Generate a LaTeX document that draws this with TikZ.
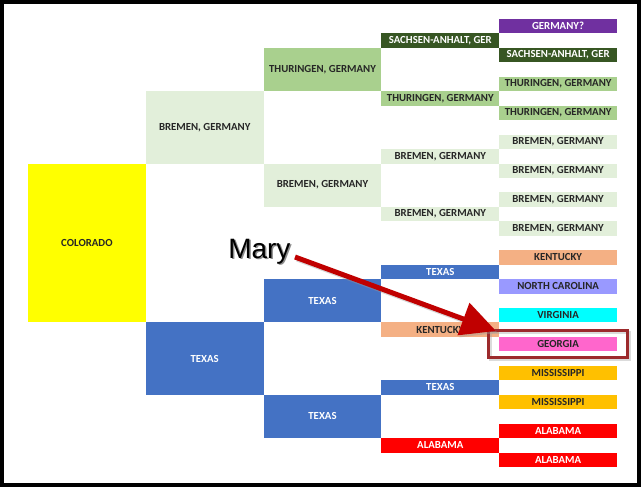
\documentclass[tikz,border=0pt]{standalone}
\usepackage{fontspec}
\setmainfont{Carlito}
\newfontfamily\arialfont{Liberation Sans}
\usetikzlibrary{arrows.meta}
\definecolor{cYellow}{HTML}{FFFF00}
\definecolor{cBremen}{HTML}{E2EFDA}
\definecolor{cThur}{HTML}{A9D08E}
\definecolor{cSach}{HTML}{375623}
\definecolor{cPurple}{HTML}{7030A0}
\definecolor{cTexas}{HTML}{4472C4}
\definecolor{cKent}{HTML}{F4B084}
\definecolor{cNC}{HTML}{9999FF}
\definecolor{cVirg}{HTML}{00FFFF}
\definecolor{cGeo}{HTML}{FF66CC}
\definecolor{cMiss}{HTML}{FFC000}
\definecolor{cAla}{HTML}{FF0000}
\definecolor{cDark}{HTML}{262626}
\definecolor{cFrame}{HTML}{9C2A2C}
\definecolor{cArrow}{HTML}{C00000}
\tikzset{
  box/.style={rectangle, inner sep=0pt, minimum width=88.35pt,
    font=\fontsize{8.1}{9}\selectfont\bfseries},
}
\newcommand\cell[7]{%
  \node[box, fill=#5, text=#6, minimum height={#4*10.8375pt}] (#1)
    at ({28+117.8*(#2)+58.9}, {19+14.45*(#3)+14.45*(#4)/2}) {#7};}
\begin{document}
\begin{tikzpicture}[x=0.75pt, y=-0.75pt]
\useasboundingbox (0,0) rectangle (641,487);
\fill[white] (0,0) rectangle (641,487);
% generation 1
\cell{colorado}{0}{10}{11}{cYellow}{cDark}{COLORADO}
% generation 2
\cell{bremenA}{1}{5}{5}{cBremen}{cDark}{BREMEN, GERMANY}
\cell{texasA}{1}{21}{5}{cTexas}{white}{TEXAS}
% generation 3
\cell{thurB}{2}{2}{3}{cThur}{cDark}{THURINGEN, GERMANY}
\cell{bremenB}{2}{10}{3}{cBremen}{cDark}{BREMEN, GERMANY}
\cell{texasB1}{2}{18}{3}{cTexas}{white}{TEXAS}
\cell{texasB2}{2}{26}{3}{cTexas}{white}{TEXAS}
% generation 4
\cell{sachC}{3}{1}{1}{cSach}{white}{SACHSEN-ANHALT, GER}
\cell{thurC}{3}{5}{1}{cThur}{cDark}{THURINGEN, GERMANY}
\cell{bremenC1}{3}{9}{1}{cBremen}{cDark}{BREMEN, GERMANY}
\cell{bremenC2}{3}{13}{1}{cBremen}{cDark}{BREMEN, GERMANY}
\cell{texasC1}{3}{17}{1}{cTexas}{white}{TEXAS}
\cell{kentC}{3}{21}{1}{cKent}{cDark}{KENTUCKY}
\cell{texasC2}{3}{25}{1}{cTexas}{white}{TEXAS}
\cell{alaC}{3}{29}{1}{cAla}{white}{ALABAMA}
% generation 5
\cell{gerD}{4}{0}{1}{cPurple}{white}{GERMANY?}
\cell{sachD}{4}{2}{1}{cSach}{white}{SACHSEN-ANHALT, GER}
\cell{thurD1}{4}{4}{1}{cThur}{cDark}{THURINGEN, GERMANY}
\cell{thurD2}{4}{6}{1}{cThur}{cDark}{THURINGEN, GERMANY}
\cell{bremenD1}{4}{8}{1}{cBremen}{cDark}{BREMEN, GERMANY}
\cell{bremenD2}{4}{10}{1}{cBremen}{cDark}{BREMEN, GERMANY}
\cell{bremenD3}{4}{12}{1}{cBremen}{cDark}{BREMEN, GERMANY}
\cell{bremenD4}{4}{14}{1}{cBremen}{cDark}{BREMEN, GERMANY}
\cell{kentD}{4}{16}{1}{cKent}{cDark}{KENTUCKY}
\cell{ncD}{4}{18}{1}{cNC}{cDark}{NORTH CAROLINA}
\cell{virgD}{4}{20}{1}{cVirg}{cDark}{VIRGINIA}
\cell{geoD}{4}{22}{1}{cGeo}{cDark}{GEORGIA}
\cell{missD1}{4}{24}{1}{cMiss}{cDark}{MISSISSIPPI}
\cell{missD2}{4}{26}{1}{cMiss}{cDark}{MISSISSIPPI}
\cell{alaD1}{4}{28}{1}{cAla}{white}{ALABAMA}
\cell{alaD2}{4}{30}{1}{cAla}{white}{ALABAMA}
% highlight frame around Georgia
\draw[black!35, line width=2.25pt, opacity=0.4] (490,332.5) rectangle (629.5,359.5);
\node[draw=cFrame, line width=2.25pt, inner sep=0pt, minimum width=104.6pt,
  minimum height=20.25pt] (frame) at (557.75,344) {};
% Mary label and arrow
\node[anchor=base west, inner sep=0pt, text=black!45,
  font=\arialfont\fontsize{21}{24}\selectfont] at (229.5,259.5) {Mary};
\node[anchor=base west, inner sep=0pt,
  font=\arialfont\fontsize{21}{24}\selectfont] (mary) at (228,258) {Mary};
\coordinate (mstart) at (295,257);
\coordinate (mtip) at (496,331);
\draw[black!40, opacity=0.4, line width=3.75pt,
  -{Triangle[length=26pt,width=25pt]}] ([shift={(2,2)}]mstart) -- ([shift={(2,2)}]mtip);
\draw[cArrow, line width=3.75pt,
  -{Triangle[length=26pt,width=25pt]}] (mstart) -- (mtip);
% outer frame
\draw[black, line width=3pt] (2,2) rectangle (639,485);
\end{tikzpicture}
\end{document}
